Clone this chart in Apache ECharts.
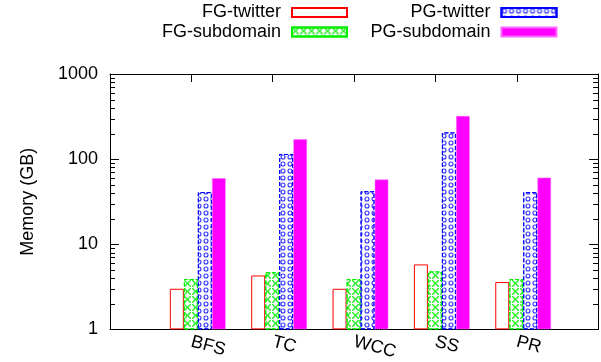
<!DOCTYPE html>
<html>
<head>
<meta charset="utf-8">
<script src="https://cdn.jsdelivr.net/npm/echarts@6/dist/echarts.min.js"></script>
<style>
html,body{margin:0;padding:0;background:#fff;}
#chart{width:601px;height:362px;}
</style>
</head>
<body>
<div id="chart"></div>
<script>
const categories = ['BFS', 'TC', 'WCC', 'SS', 'PR'];
const fgTwitter = [3.0, 4.3, 3.0, 5.8, 3.6];
const fgSubdomain = [3.9, 4.7, 3.9, 4.8, 3.9];
const pgTwitter = [41, 115, 42, 206, 41];
const pgSubdomain = [60, 172, 58, 323, 61];
const yTicks = [1, 10, 100, 1000];

const FONT = 'Liberation Sans, Arial, Helvetica, sans-serif';
const FS = 18;
const axisCats = [''].concat(categories, ['']);
function pad(arr) { return ['-'].concat(arr, ['-']); }

const chart = echarts.init(document.getElementById('chart'), null, {renderer: 'canvas'});

const crossPath = 'path://M0 0 L1.6 0 L5 3.4 L8.4 0 L10 0 L10 1.6 L6.6 5 L10 8.4 L10 10 L8.4 10 L5 6.6 L1.6 10 L0 10 L0 8.4 L3.4 5 L0 1.6 Z';
const ringPath = 'path://M5 0 A5 5 0 1 1 5 10 A5 5 0 1 1 5 0 Z M5 2.2 A2.8 2.8 0 1 0 5 7.8 A2.8 2.8 0 1 0 5 2.2 Z';

const legendBase = {
  orient: 'horizontal', align: 'right', itemWidth: 55, itemHeight: 9, padding: 0,
  selectedMode: false, icon: 'rect',
  textStyle: {fontFamily: FONT, fontSize: FS, color: '#000', padding: [0, 6, 0, 0]}
};

const option = {
  animation: false,
  backgroundColor: '#fff',
  grid: {left: 110, top: 74, width: 497, height: 255.5, containLabel: false},
  legend: [
    Object.assign({}, legendBase, {data: ['FG-twitter'], right: 253, top: 3.5}),
    Object.assign({}, legendBase, {data: ['FG-subdomain'], right: 253, top: 23}),
    Object.assign({}, legendBase, {data: ['PG-twitter'], right: 43.5, top: 3.5}),
    Object.assign({}, legendBase, {data: ['PG-subdomain'], right: 43.5, top: 23})
  ],
  xAxis: [
    {
      type: 'category', data: axisCats, boundaryGap: false, position: 'bottom',
      axisLine: {lineStyle: {color: '#000', width: 1}},
      axisTick: {show: true, inside: true, length: 8, interval: 0, lineStyle: {color: '#000'}},
      axisLabel: {interval: 0, rotate: -15, margin: 12, fontFamily: FONT, fontSize: FS, color: '#000'},
      splitLine: {show: false}
    },
    {
      type: 'category', data: axisCats, boundaryGap: false, position: 'top',
      axisLine: {lineStyle: {color: '#000', width: 1}},
      axisTick: {show: true, inside: true, length: 8, interval: 0, lineStyle: {color: '#000'}},
      axisLabel: {show: false},
      splitLine: {show: false}
    }
  ],
  yAxis: [
    {
      type: 'log', logBase: 10, min: 1, max: 1000, position: 'left',
      name: 'Memory (GB)', nameLocation: 'middle', nameGap: 73, nameRotate: 90,
      nameTextStyle: {fontFamily: FONT, fontSize: FS, color: '#000'},
      axisLine: {show: true, lineStyle: {color: '#000', width: 1}},
      axisTick: {show: true, inside: true, length: 9, lineStyle: {color: '#000'}},
      axisLabel: {margin: 12, fontFamily: FONT, fontSize: FS, color: '#000',
        formatter: function (v) { return String(Math.round(v)); }},
      splitLine: {show: false}
    },
    {
      type: 'log', logBase: 10, min: 1, max: 1000, position: 'right',
      axisLine: {show: true, lineStyle: {color: '#000', width: 1}},
      axisTick: {show: true, inside: true, length: 9, lineStyle: {color: '#000'}},
      axisLabel: {show: false},
      splitLine: {show: false}
    }
  ],
  series: [
    {
      name: 'spacer', type: 'bar', barWidth: 13, barGap: 0, data: pad([null, null, null, null, null]),
      itemStyle: {color: 'rgba(0,0,0,0)'}, silent: true
    },
    {
      name: 'FG-twitter', type: 'bar', barWidth: 14, barGap: 0, data: pad(fgTwitter),
      itemStyle: {color: '#fff', borderColor: '#ff0000', borderWidth: 1}
    },
    {
      name: 'FG-subdomain', type: 'bar', barWidth: 14, barGap: 0, data: pad(fgSubdomain),
      itemStyle: {
        color: '#fff', borderColor: '#00ee00', borderWidth: 1, borderType: [4, 2],
        decal: {symbol: crossPath, symbolSize: 1, dashArrayX: [7, 0.5], dashArrayY: [7, 0.5], color: '#33ee33'}
      }
    },
    {
      name: 'PG-twitter', type: 'bar', barWidth: 14, barGap: 0, data: pad(pgTwitter),
      itemStyle: {
        color: '#fff', borderColor: '#0000ff', borderWidth: 1, borderType: [4, 2],
        decal: {symbol: ringPath, symbolSize: 0.85, dashArrayX: [6, 1], dashArrayY: [6, 1], color: '#3333ff'}
      }
    },
    {
      name: 'PG-subdomain', type: 'bar', barWidth: 14, barGap: 0, data: pad(pgSubdomain),
      itemStyle: {color: '#ff00ff', borderColor: '#ff66ff', borderWidth: 1, borderType: 'dotted'}
    }
  ]
};
chart.setOption(option);

// minor log ticks (2..9 in each decade), positioned through the axis scale
const xl = chart.convertToPixel({xAxisIndex: 0}, 0);
const xr = chart.convertToPixel({xAxisIndex: 0}, axisCats.length - 1);
const minor = [];
for (let d = 0; d < yTicks.length - 1; d++) {
  for (let k = 2; k <= 9; k++) {
    const y = Math.round(chart.convertToPixel({yAxisIndex: 0}, k * yTicks[d])) + 0.5;
    minor.push({type: 'line', shape: {x1: xl, y1: y, x2: xl + 5, y2: y}, style: {stroke: '#000', lineWidth: 1}, z: 1});
    minor.push({type: 'line', shape: {x1: xr - 5, y1: y, x2: xr, y2: y}, style: {stroke: '#000', lineWidth: 1}, z: 1});
  }
}
chart.setOption({graphic: minor});
</script>
</body>
</html>
